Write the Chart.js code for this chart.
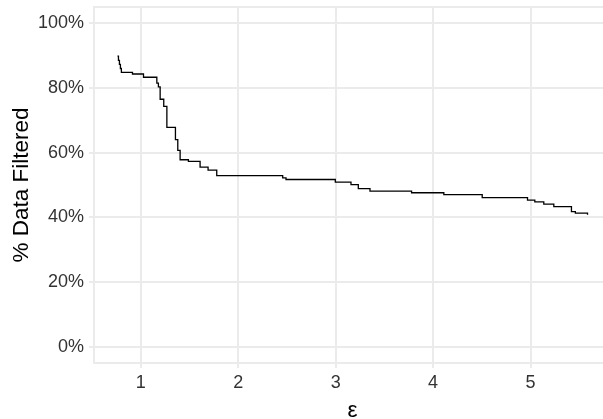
<!DOCTYPE html>
<html>
<head>
<meta charset="utf-8">
<script src="https://cdn.jsdelivr.net/npm/chart.js@4.4.1/dist/chart.umd.min.js"></script>
<style>
  html, body { margin: 0; padding: 0; background: #fff; overflow: hidden; }
  #wrap { width: 620px; height: 419px; }
</style>
</head>
<body>
<div id="wrap"><canvas id="filterChart" width="620" height="419"></canvas></div>
<script>
// epsilon values where the step happens, and % filtered after the step
const epsValues = [0.76, 0.77, 0.78, 0.79, 0.80, 0.914, 1.027, 1.164, 1.18, 1.198, 1.235, 1.267,
    1.355, 1.379, 1.403, 1.488, 1.608, 1.69, 1.779, 2.456, 2.49, 2.996, 3.157, 3.232, 3.352,
    3.779, 4.11, 4.504, 4.969, 5.044, 5.136, 5.239, 5.42, 5.46, 5.585];
const filteredPct = [89.8, 88.5, 87.3, 86.0, 84.8, 84.3, 83.3, 81.5, 80.3, 76.5, 74.3, 67.8,
    64.0, 60.7, 57.8, 57.3, 55.5, 54.6, 52.9, 52.2, 51.7, 50.9, 50.1, 48.9, 48.1,
    47.6, 47.0, 46.1, 45.3, 44.8, 44.1, 43.3, 41.8, 41.3, 40.8];
const xTickValues = [1, 2, 3, 4, 5];
const yTickValues = [0, 20, 40, 60, 80, 100];

const GRID = '#ebebeb';
const FONT = "'Liberation Sans', Arial, Helvetica, sans-serif";

// panel border (top + right sides too, like ggplot's panel.border)
const panelBorder = {
    id: 'panelBorder',
    afterDraw(chart) {
        const { ctx, chartArea: a } = chart;
        ctx.save();
        ctx.strokeStyle = GRID;
        ctx.lineWidth = 2;
        ctx.strokeRect(a.left, a.top, a.right - a.left, a.bottom - a.top);
        ctx.restore();
    }
};

function init() {
    const ctx = document.getElementById('filterChart').getContext('2d');
    new Chart(ctx, {
        type: 'line',
        data: {
            datasets: [{
                data: epsValues.map((x, i) => ({ x: x, y: filteredPct[i] })),
                stepped: 'before',
                borderColor: '#000',
                borderWidth: 1.3,
                pointRadius: 0,
                fill: false
            }]
        },
        options: {
            responsive: false,
            animation: false,
            devicePixelRatio: 1,
            layout: { padding: { left: 3, right: 9, top: 7, bottom: 0 } },
            plugins: { legend: { display: false }, tooltip: { enabled: false } },
            scales: {
                x: {
                    type: 'linear',
                    min: 0.519,
                    max: 5.826,
                    afterBuildTicks: (axis) => { axis.ticks = xTickValues.map(v => ({ value: v })); },
                    afterFit: (axis) => { axis.height = 56; },
                    grid: { color: GRID, lineWidth: 2, tickLength: 5 },
                    border: { display: true, color: GRID, width: 2 },
                    ticks: { color: '#333', font: { family: FONT, size: 18, lineHeight: 1 }, padding: 6, maxRotation: 0 },
                    title: { display: true, text: 'ε', color: '#000', font: { family: FONT, size: 22.5, lineHeight: 1 }, padding: { top: 4, bottom: -3 } }
                },
                y: {
                    type: 'linear',
                    min: -5,
                    max: 105,
                    afterBuildTicks: (axis) => { axis.ticks = yTickValues.map(v => ({ value: v })); },
                    afterFit: (axis) => {
                        axis.width = 91;
                        // the edge ticks sit inside the expanded range, no extra room needed
                        axis.paddingTop = 0;
                        axis.paddingBottom = 0;
                    },
                    grid: { color: GRID, lineWidth: 2, tickLength: 5 },
                    border: { display: true, color: GRID, width: 2 },
                    ticks: { color: '#333', font: { family: FONT, size: 18, lineHeight: 0.75 }, padding: 5, callback: (v) => v + '%' },
                    title: { display: true, text: '% Data Filtered', color: '#000', font: { family: FONT, size: 22.5 }, padding: { top: 5, bottom: 1 } }
                }
            }
        },
        plugins: [panelBorder]
    });
}

document.addEventListener('DOMContentLoaded', init);
</script>
</body>
</html>
